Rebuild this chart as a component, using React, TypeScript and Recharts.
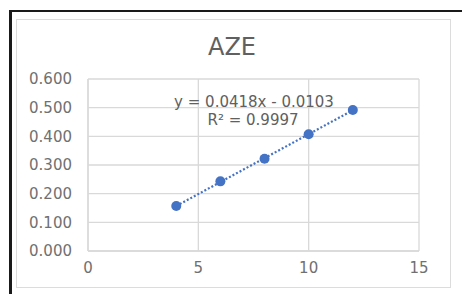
import { CartesianGrid, Scatter, ScatterChart, XAxis, YAxis } from 'recharts';

// measured points
const concX = [4, 6, 8, 10, 12];
const absY = [0.157, 0.243, 0.322, 0.407, 0.492];

// linear trendline end points (dotted)
const trendX = [4, 12];
const trendY = [0.157, 0.491];

const xTicks = [0, 5, 10, 15];
const yTicks = [0, 0.1, 0.2, 0.3, 0.4, 0.5, 0.6];

const title = 'AZE';
const equation = 'y = 0.0418x - 0.0103';
const rSquared = 'R² = 0.9997';

const points = concX.map((x, i) => ({ x, y: absY[i] }));
const trend = trendX.map((x, i) => ({ x, y: trendY[i] }));

const font = '"DejaVu Sans", Verdana, sans-serif';
const blue = '#4472C4';
const textGray = '#606060';

export default function App() {
	return (
		<div style={{ position: 'absolute', left: 0, top: 0, width: 462, height: 294, overflow: 'hidden', background: '#fff', fontFamily: font }}>
			<div style={{ position: 'absolute', left: 9, top: 10, width: 520, height: 400, borderTop: '2px solid #1a1a1a', borderLeft: '3px solid #1a1a1a' }} />
			<div style={{ position: 'absolute', left: 16, top: 19, width: 433, height: 267, border: '1px solid #dcdcdc' }} />
			<ScatterChart width={462} height={294} margin={{ top: 79, right: 43, bottom: 0, left: 8 }} style={{ position: 'absolute', left: 0, top: 0 }}>
				<CartesianGrid stroke="#d9d9d9" strokeWidth={1.3} />
				<XAxis
					type="number"
					dataKey="x"
					domain={[0, 15]}
					ticks={xTicks}
					height={43}
					axisLine={{ stroke: '#d9d9d9', strokeWidth: 1.3 }}
					tickLine={false}
					tickSize={0}
					tickMargin={11}
					tick={{ fill: '#707070', fontSize: 15, fontFamily: font }}
				/>
				<YAxis
					type="number"
					dataKey="y"
					domain={[0, 0.6]}
					ticks={yTicks}
					width={80}
					axisLine={{ stroke: '#d9d9d9', strokeWidth: 1.3 }}
					tickLine={false}
					tickSize={0}
					tickMargin={16}
					tickFormatter={(v: number) => v.toFixed(3)}
					tick={{ fill: '#707070', fontSize: 15, fontFamily: font }}
				/>
				<Scatter
					data={trend}
					line={{ stroke: blue, strokeWidth: 2.2, strokeDasharray: '2 2' }}
					shape={() => <g />}
					isAnimationActive={false}
				/>
				<Scatter
					data={points}
					fill={blue}
					isAnimationActive={false}
					shape={(p: any) => <circle cx={p.cx} cy={p.cy} r={5} fill={blue} />}
				/>
			</ScatterChart>
			<div style={{ position: 'absolute', left: 132, width: 200, top: 33, textAlign: 'center', fontSize: 24, lineHeight: '28px', color: textGray }}>{title}</div>
			<div style={{ position: 'absolute', left: 154, width: 200, top: 93, textAlign: 'center', fontSize: 15, lineHeight: '18px', color: textGray }}>{equation}</div>
			<div style={{ position: 'absolute', left: 153, width: 200, top: 111, textAlign: 'center', fontSize: 15, lineHeight: '18px', color: textGray }}>{rSquared}</div>
		</div>
	);
}
